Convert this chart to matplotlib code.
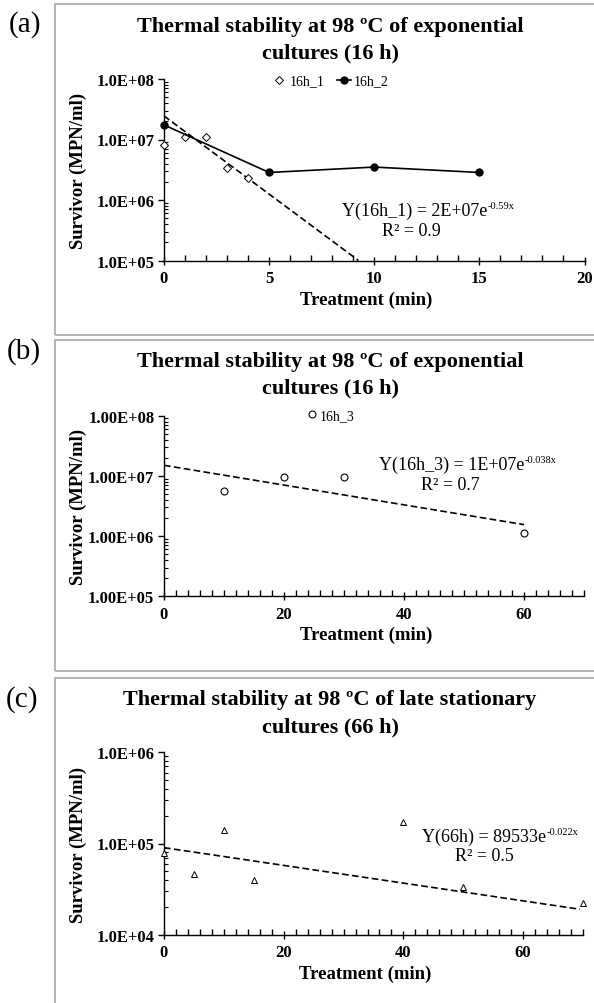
import matplotlib
matplotlib.use("Agg")
import matplotlib.pyplot as plt
from matplotlib.patches import Rectangle
from matplotlib.ticker import FixedLocator, MultipleLocator, LogLocator, NullFormatter

plt.rcParams['font.family'] = ['Liberation Serif', 'DejaVu Serif']

# panel (a): exponential cultures, 16h_1 and 16h_2
a_x1 = [0, 1, 2, 3, 4]
a_y1 = [8.1e6, 1.11e7, 1.12e7, 3.4e6, 2.3e6]
a_x2 = [0, 5, 10, 15]
a_y2 = [1.74e7, 2.85e6, 3.5e6, 2.85e6]
a_fit_x = [0, 9.25]
a_fit_y = [2.45e7, 1.0e5]
a_xticks = [0, 5, 10, 15, 20]
a_yticks = [1e5, 1e6, 1e7, 1e8]
a_ylabels = ['1.0E+05', '1.0E+06', '1.0E+07', '1.0E+08']

# panel (b): 16h_3
b_x = [10, 20, 30, 60]
b_y = [5.6e6, 9.7e6, 9.7e6, 1.13e6]
b_fit_x = [0, 60]
b_fit_y = [1.5e7, 1.55e6]
b_xticks = [0, 20, 40, 60]
b_yticks = [1e5, 1e6, 1e7, 1e8]
b_ylabels = ['1.00E+05', '1.00E+06', '1.00E+07', '1.00E+08']

# panel (c): late stationary cultures (66 h)
c_x = [0, 5, 10, 15, 40, 50, 70]
c_y = [7.9e4, 4.6e4, 1.4e5, 4.0e4, 1.7e5, 3.3e4, 2.2e4]
c_fit_x = [0, 69.5]
c_fit_y = [9.0e4, 1.9e4]
c_xticks = [0, 20, 40, 60]
c_yticks = [1e4, 1e5, 1e6]
c_ylabels = ['1.0E+04', '1.0E+05', '1.0E+06']

W, H = 594, 1004
fig = plt.figure(figsize=(W / 100, H / 100), dpi=100)
fig.patch.set_facecolor('white')


def fx(x):
    return x / W


def fy(y):
    return 1 - y / H


def make_axes(left, right, top, bottom):
    return fig.add_axes([fx(left), fy(bottom), (right - left) / W, (bottom - top) / H])


def style_axes(ax, xlim, xticks, xminor, ylim, yticks, ylabels):
    ax.set_yscale('log')
    ax.set_xlim(*xlim)
    ax.set_ylim(*ylim)
    ax.spines['top'].set_visible(False)
    ax.spines['right'].set_visible(False)
    ax.spines['left'].set_linewidth(1.0)
    ax.spines['bottom'].set_linewidth(1.0)
    ax.xaxis.set_major_locator(FixedLocator(xticks))
    ax.xaxis.set_minor_locator(MultipleLocator(xminor))
    ax.set_xticklabels([str(t) for t in xticks])
    ax.yaxis.set_major_locator(FixedLocator(yticks))
    ax.set_yticklabels(ylabels)
    ax.yaxis.set_minor_locator(LogLocator(base=10, subs=range(2, 10)))
    ax.yaxis.set_minor_formatter(NullFormatter())
    ax.tick_params(axis='x', which='major', direction='inout', length=6, width=1, labelsize=12, pad=4)
    ax.tick_params(axis='x', which='minor', direction='in', length=4, width=1)
    ax.tick_params(axis='y', which='major', direction='out', length=4, width=1, labelsize=12, pad=3)
    ax.tick_params(axis='y', which='minor', direction='in', length=3, width=0.8)
    for lab in ax.get_xticklabels() + ax.get_yticklabels():
        lab.set_fontweight('bold')
    ax.set_xlabel('Treatment (min)', fontsize=13.5, fontweight='bold')
    ax.set_ylabel('Survivor (MPN/ml)', fontsize=13.5, fontweight='bold')
    ax.xaxis.set_label_coords(0.481, -0.165)
    ax.yaxis.set_label_coords(-0.183, 0.5)


def equation(ax, x_left, y, base, sup, r2_x, r2_y, r2):
    t = fig.text(fx(x_left), fy(y), base, ha='left', va='center', fontsize=13)
    ax.annotate(sup, xy=(1.0, 0.78), xycoords=t, ha='left', va='center', fontsize=7.5)
    fig.text(fx(r2_x), fy(r2_y), r2, ha='center', va='center', fontsize=13)


def title(y1, y2, line1, line2):
    fig.text(fx(330), fy(y1), line1, ha='center', va='center', fontsize=16, fontweight='bold')
    fig.text(fx(330), fy(y2), line2, ha='center', va='center', fontsize=16, fontweight='bold')


# grey boxes around each panel
for top, bottom in [(5, 336), (341, 672), (679, 1010)]:
    fig.add_artist(Rectangle((fx(55), fy(bottom)), (610 - 55) / W, (bottom - top) / H,
                             transform=fig.transFigure, fill=False, ec='#a8a8a8', lw=1.2))

dash = (0, (4, 2))

# ---- (a) ----
ax = make_axes(164, 584.5, 80, 261.5)
ax.plot(a_x1, a_y1, linestyle='none', marker='D', ms=3.8, mfc='white', mec='black', mew=0.7,
        label='16h_1', clip_on=False, zorder=3)
ax.plot(a_x2, a_y2, color='black', lw=1.2, marker='o', ms=5, mfc='black', mec='black',
        label='16h_2', clip_on=False, zorder=3)
ax.plot(a_fit_x, a_fit_y, color='black', lw=1.2, linestyle=dash)
style_axes(ax, (0, 20), a_xticks, 1, (1e5, 1e8), a_yticks, a_ylabels)
ax.legend(loc='center', bbox_to_anchor=(0.396, 0.989), ncol=2, frameon=False, fontsize=10,
          handlelength=1.0, handletextpad=0.25, columnspacing=0.9, borderpad=0)
title(27, 53, 'Thermal stability at 98 ºC of exponential', 'cultures (16 h)')
equation(ax, 342, 211, 'Y(16h_1) = 2E+07e', '-0.59x', 411, 231, 'R² = 0.9')
fig.text(fx(25), fy(25), '(a)', ha='center', va='center', fontsize=21)

# ---- (b) ----
ax = make_axes(164, 584, 416.7, 597.3)
ax.plot(b_x, b_y, linestyle='none', marker='o', ms=5, mfc='white', mec='black', mew=0.8,
        label='16h_3', clip_on=False, zorder=3)
ax.plot(b_fit_x, b_fit_y, color='black', lw=1.2, linestyle=dash)
style_axes(ax, (0, 70), b_xticks, 2, (1e5, 1e8), b_yticks, b_ylabels)
ax.legend(loc='center', bbox_to_anchor=(0.398, 1.0), frameon=False, fontsize=10,
          handlelength=0.6, handletextpad=0.2, borderpad=0)
title(362, 388, 'Thermal stability at 98 ºC of exponential', 'cultures (16 h)')
equation(ax, 379, 465, 'Y(16h_3) = 1E+07e', '-0.038x', 450, 485, 'R² = 0.7')
fig.text(fx(24), fy(352), '(b)', ha='center', va='center', fontsize=21)

# ---- (c) ----
ax = make_axes(164, 583, 753.3, 935.7)
ax.plot(c_x, c_y, linestyle='none', marker='^', ms=5, mfc='white', mec='black', mew=0.7,
        clip_on=False, zorder=3)
ax.plot(c_fit_x, c_fit_y, color='black', lw=1.2, linestyle=dash)
style_axes(ax, (0, 70), c_xticks, 2, (1e4, 1e6), c_yticks, c_ylabels)
title(700, 727, 'Thermal stability at 98 ºC of late stationary', 'cultures (66 h)')
equation(ax, 422, 837, 'Y(66h) = 89533e', '-0.022x', 484, 857, 'R² = 0.5')
fig.text(fx(22), fy(700), '(c)', ha='center', va='center', fontsize=21)

fig.savefig('out.png', dpi=100)
